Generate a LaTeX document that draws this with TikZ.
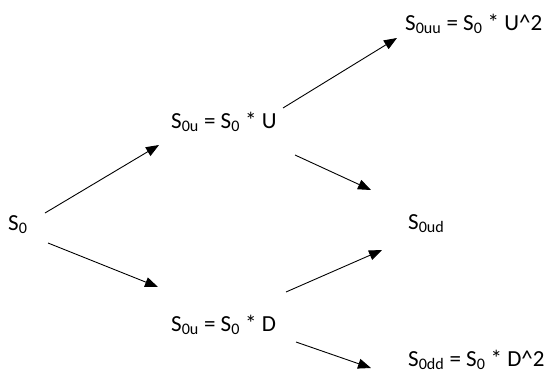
\documentclass[tikz,border=0pt]{standalone}
\usepackage{fontspec}
\setmainfont{Carlito}
\usepackage{tikz}
\usetikzlibrary{arrows.meta}

\begin{document}
\begin{tikzpicture}[x=1pt,y=-1pt,
    lbl/.style={anchor=base west,inner sep=0pt,font=\fontsize{23}{27}\selectfont},
    arr/.style={-{Triangle[length=13pt,width=10pt]},line width=0.9pt}]
  \useasboundingbox (0,0) rectangle (548,383);
  \node[lbl] (s0) at (8,230) {S\textsubscript{0}};
  \node[lbl] (s0u) at (171,128) {S\textsubscript{0u} = S\textsubscript{0} * U};
  \node[lbl] (s0d) at (171,331) {S\textsubscript{0u} = S\textsubscript{0} * D};
  \node[lbl] (s0uu) at (405,30) {S\textsubscript{0uu} = S\textsubscript{0} * U\^{}2};
  \node[lbl] (s0ud) at (408,229) {S\textsubscript{0ud}};
  \node[lbl] (s0dd) at (408,366) {S\textsubscript{0dd} = S\textsubscript{0} * D\^{}2};
  % free ends of the arrows
  \coordinate (s0-a) at (45,213);   \coordinate (s0u-in) at (159,145);
  \coordinate (s0-b) at (48,243);   \coordinate (s0d-in) at (158,287);
  \coordinate (s0u-a) at (283,108); \coordinate (s0uu-in) at (397,38);
  \coordinate (s0u-b) at (295,155); \coordinate (s0ud-a) at (371,190);
  \coordinate (s0d-a) at (286,292); \coordinate (s0ud-b) at (382,250);
  \coordinate (s0d-b) at (296,342); \coordinate (s0dd-in) at (371,368);
  \draw[arr] (s0-a) -- (s0u-in);
  \draw[arr] (s0-b) -- (s0d-in);
  \draw[arr] (s0u-a) -- (s0uu-in);
  \draw[arr] (s0u-b) -- (s0ud-a);
  \draw[arr] (s0d-a) -- (s0ud-b);
  \draw[arr] (s0d-b) -- (s0dd-in);
\end{tikzpicture}
\end{document}
